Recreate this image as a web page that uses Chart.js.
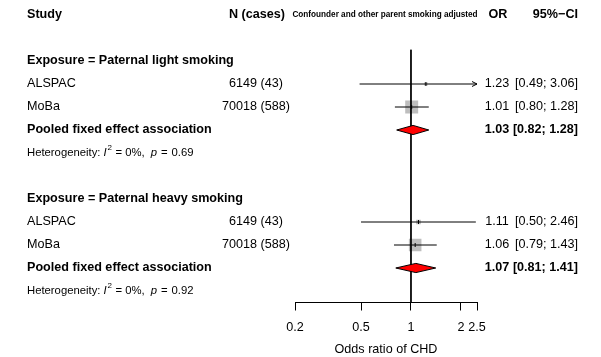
<!DOCTYPE html>
<html>
<head>
<meta charset="utf-8">
<script src="https://cdn.jsdelivr.net/npm/chart.js@4.4.1/dist/chart.umd.min.js"></script>
<style>
  body { margin: 0; background: #fff; }
  #wrap { width: 601px; height: 357px; }
</style>
</head>
<body>
<div id="wrap"><canvas id="forest"></canvas></div>
<script>
// study rows
const studyNames = ['ALSPAC', 'MoBa', 'ALSPAC', 'MoBa'];
const studyN = ['6149 (43)', '70018 (588)', '6149 (43)', '70018 (588)'];
const studyRows = [3, 4, 9, 10];
const studyOR = [1.23, 1.01, 1.11, 1.06];
const studyLower = [0.49, 0.80, 0.50, 0.79];
const studyUpper = [3.06, 1.28, 2.46, 1.43];
const studyWeight = [6.2, 93.8, 12.2, 87.8]; // % weight within subgroup

// subgroup rows
const groupTitles = ['Exposure = Paternal light smoking', 'Exposure = Paternal heavy smoking'];
const groupRows = [2, 8];
const pooledRows = [5, 11];
const pooledOR = [1.03, 1.07];
const pooledLower = [0.82, 0.81];
const pooledUpper = [1.28, 1.41];
const hetRows = [6, 12];
const hetI2 = ['0%', '0%'];
const hetP = ['0.69', '0.92'];

const xTicks = [0.2, 0.5, 1, 2, 2.5];
const xMin = 0.2, xMax = 2.5;

const FONT = '"Liberation Sans", Arial, Helvetica, sans-serif';
const FS = 12.6;

const datasets = [];

// weight squares
datasets.push({
    type: 'scatter',
    data: studyOR.map((v, i) => ({ x: v, y: studyRows[i] })),
    pointStyle: 'rect',
    pointRadius: studyWeight.map(w => 13.4 * Math.sqrt(w / 100) / Math.SQRT2),
    backgroundColor: '#bebebe',
    borderWidth: 0,
    order: 6
});

// line of no effect
datasets.push({
    type: 'line',
    data: [{ x: 1, y: 1.5 }, { x: 1, y: 12.5 }],
    borderColor: '#000',
    borderWidth: 1,
    pointRadius: 0,
    showLine: true,
    order: 5
});

// confidence intervals
studyOR.forEach((v, i) => {
    datasets.push({
        type: 'line',
        data: [{ x: studyLower[i], y: studyRows[i] }, { x: studyUpper[i], y: studyRows[i] }],
        borderColor: '#000',
        borderWidth: 1,
        pointRadius: 0,
        showLine: true,
        order: 4
    });
});

// estimate ticks
datasets.push({
    type: 'scatter',
    data: studyOR.map((v, i) => ({ x: v, y: studyRows[i] })),
    pointStyle: 'line',
    rotation: 90,
    pointRadius: 2,
    borderColor: '#000',
    borderWidth: 1,
    order: 3
});

// pooled diamonds
pooledOR.forEach((v, i) => {
    const r = pooledRows[i];
    datasets.push({
        type: 'line',
        data: [
            { x: pooledLower[i], y: r },
            { x: v, y: r - 0.2 },
            { x: pooledUpper[i], y: r },
            { x: v, y: r + 0.2 },
            { x: pooledLower[i], y: r }
        ],
        borderColor: '#000',
        borderWidth: 1,
        backgroundColor: '#ff0000',
        fill: 'shape',
        pointRadius: 0,
        tension: 0,
        showLine: true,
        order: 1
    });
});

const textPlugin = {
    id: 'forestText',
    afterDraw(chart) {
        const c = chart.ctx;
        const xs = chart.scales.x, ys = chart.scales.y;
        const py = r => ys.getPixelForValue(r);
        const put = (t, x, r, align, size, bold) => {
            c.font = (bold ? 'bold ' : '') + size + 'px ' + FONT;
            c.textAlign = align;
            c.fillText(t, x, py(r));
        };
        c.save();
        c.fillStyle = '#000';
        c.textBaseline = 'middle';

        // header
        put('Study', 27, 0, 'left', FS, true);
        put('N (cases)', 257, 0, 'center', FS, true);
        put('Confounder and other parent smoking adjusted', 385, 0, 'center', 8.2, true);
        put('OR', 498, 0, 'center', FS, true);
        put('95%\u2212CI', 578, 0, 'right', FS, true);

        groupTitles.forEach((t, i) => put(t, 27, groupRows[i], 'left', FS, true));

        studyNames.forEach((t, i) => {
            const r = studyRows[i];
            put(t, 27, r, 'left', FS, false);
            put(studyN[i], 256, r, 'center', FS, false);
            put(studyOR[i].toFixed(2), 497, r, 'center', FS, false);
            put('[' + studyLower[i].toFixed(2) + '; ' + studyUpper[i].toFixed(2) + ']', 578, r, 'right', FS, false);
        });

        pooledOR.forEach((v, i) => {
            const r = pooledRows[i];
            put('Pooled fixed effect association', 27, r, 'left', FS, true);
            put(v.toFixed(2), 497, r, 'center', FS, true);
            put('[' + pooledLower[i].toFixed(2) + '; ' + pooledUpper[i].toFixed(2) + ']', 578, r, 'right', FS, true);
        });

        // heterogeneity lines with italic symbols
        hetRows.forEach((r, i) => {
            const y = py(r);
            let x = 27;
            const seg = (t, style, size, dy, gap) => {
                c.font = style + size + 'px ' + FONT;
                c.textAlign = 'left';
                c.fillText(t, x, y + (dy || 0));
                x += c.measureText(t).width + (gap || 0);
            };
            seg('Heterogeneity:', '', 11.3, 0, 3);
            seg('I', 'italic ', 11.3, 0, 1);
            seg('2', '', 8, -5, 3.5);
            seg('=', '', 11.3, 0, 3);
            seg(hetI2[i] + ',', '', 11.3, 0, 6);
            seg('p', 'italic ', 11.3, 0, 4);
            seg('=', '', 11.3, 0, 4);
            seg(hetP[i], '', 11.3);
        });

        // arrow for intervals running past the axis
        studyUpper.forEach((u, i) => {
            if (u <= xMax) return;
            const tip = xs.getPixelForValue(xMax);
            const y = py(studyRows[i]);
            c.strokeStyle = '#000';
            c.lineWidth = 1;
            c.beginPath();
            c.moveTo(tip - 5, y - 2.5);
            c.lineTo(tip, y);
            c.lineTo(tip - 5, y + 2.5);
            c.stroke();
        });
        c.restore();
    }
};

new Chart(document.getElementById('forest'), {
    type: 'scatter',
    data: { datasets: datasets },
    options: {
        responsive: true,
        maintainAspectRatio: false,
        animation: false,
        layout: { padding: { left: 295, right: 124, top: 49.5, bottom: 0 } },
        plugins: { legend: { display: false }, tooltip: { enabled: false } },
        scales: {
            x: {
                type: 'logarithmic',
                min: xMin,
                max: xMax,
                afterBuildTicks: s => { s.ticks = xTicks.map(v => ({ value: v })); },
                afterFit: s => { s.height = 54.5; },
                ticks: {
                    callback: v => String(v),
                    color: '#000',
                    font: { family: FONT, size: FS },
                    maxRotation: 0,
                    autoSkip: false,
                    padding: 9
                },
                grid: { display: true, drawOnChartArea: false, drawTicks: true, tickLength: 8, color: '#000' },
                border: { display: true, color: '#000' },
                title: {
                    display: true,
                    text: 'Odds ratio of CHD',
                    color: '#000',
                    font: { family: FONT, size: FS },
                    padding: { top: 2, bottom: 0 }
                }
            },
            y: { type: 'linear', min: 1.5, max: 12.5, reverse: true, display: false }
        }
    },
    plugins: [textPlugin]
});
</script>
</body>
</html>
